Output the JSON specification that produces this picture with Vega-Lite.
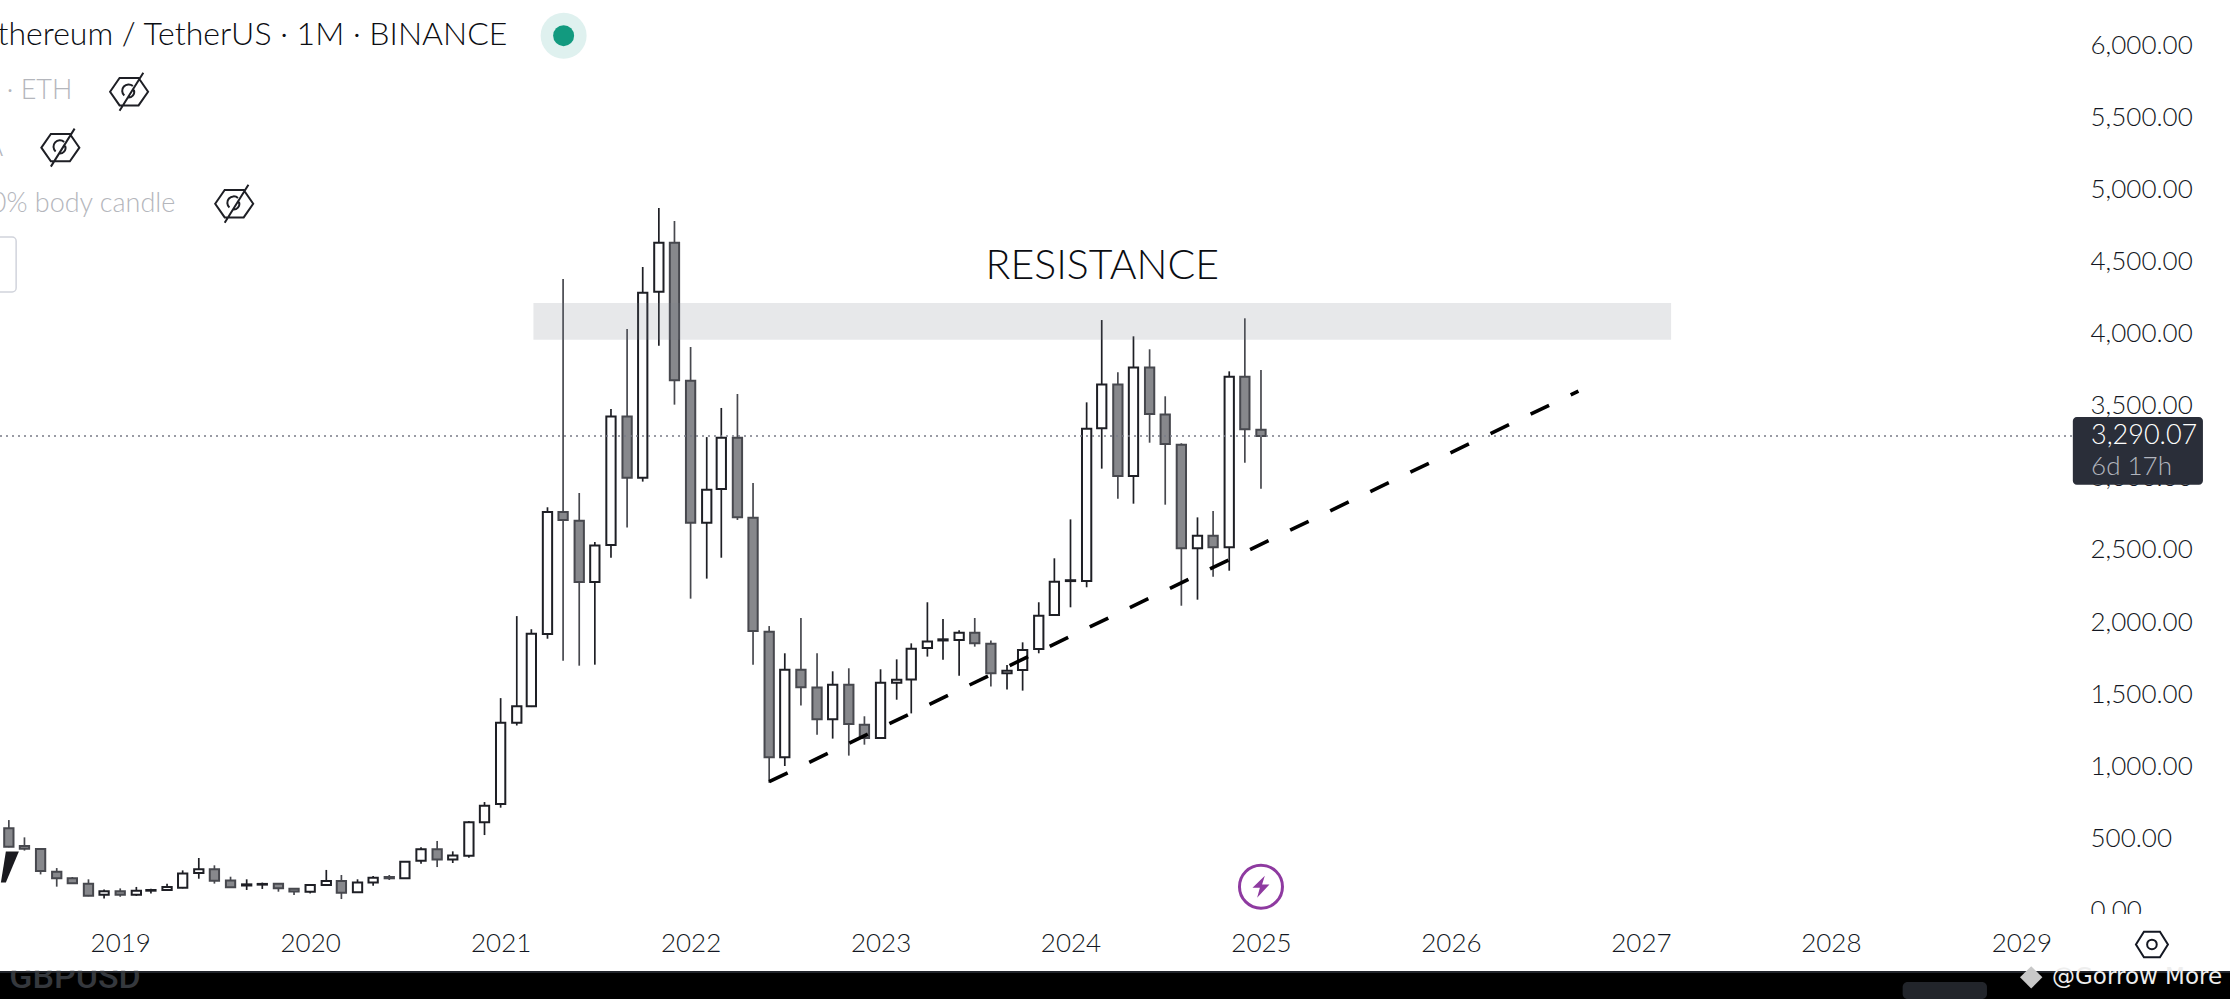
{
  "$schema": "https://vega.github.io/schema/vega-lite/v6.json",
  "width": 2230,
  "height": 999,
  "autosize": "none",
  "padding": 0,
  "background": "#ffffff",
  "config": {
    "view": {"stroke": null},
    "axisY": {
      "orient": "right", "offset": -140, "grid": false, "ticks": false, "domain": false,
      "labelPadding": 0, "labelAlign": "left", "labelBaseline": "middle", "labelFlush": false, "labelOverlap": false,
      "labelFont": "Lato", "labelFontWeight": 300, "labelFontSize": 26, "labelColor": "#131722", "zindex": 0
    }
  },
  "datasets": {
    "candles": [
      {"t":"2018-06-01","open":569,"close":441,"high":626,"low":437,"dir":"down"},
      {"t":"2018-07-01","open":446,"close":427,"high":506,"low":414,"dir":"down"},
      {"t":"2018-08-01","open":425,"close":272,"high":430,"low":249,"dir":"down"},
      {"t":"2018-09-01","open":268,"close":222,"high":293,"low":164,"dir":"down"},
      {"t":"2018-10-01","open":222,"close":187,"high":231,"low":187,"dir":"down"},
      {"t":"2018-11-01","open":185,"close":101,"high":215,"low":97,"dir":"down"},
      {"t":"2018-12-01","open":108,"close":132,"high":145,"low":81,"dir":"up"},
      {"t":"2019-01-01","open":132,"close":107,"high":152,"low":94,"dir":"down"},
      {"t":"2019-02-01","open":107,"close":136,"high":162,"low":100,"dir":"up"},
      {"t":"2019-03-01","open":136,"close":141,"high":150,"low":117,"dir":"up"},
      {"t":"2019-04-01","open":141,"close":162,"high":184,"low":137,"dir":"up"},
      {"t":"2019-05-01","open":156,"close":256,"high":277,"low":152,"dir":"up"},
      {"t":"2019-06-01","open":258,"close":284,"high":363,"low":219,"dir":"up"},
      {"t":"2019-07-01","open":284,"close":205,"high":312,"low":185,"dir":"down"},
      {"t":"2019-08-01","open":207,"close":160,"high":233,"low":159,"dir":"down"},
      {"t":"2019-09-01","open":172,"close":180,"high":215,"low":141,"dir":"up"},
      {"t":"2019-10-01","open":178,"close":183,"high":192,"low":148,"dir":"up"},
      {"t":"2019-11-01","open":184,"close":153,"high":187,"low":129,"dir":"down"},
      {"t":"2019-12-01","open":150,"close":130,"high":153,"low":106,"dir":"down"},
      {"t":"2020-01-01","open":128,"close":175,"high":182,"low":117,"dir":"up"},
      {"t":"2020-02-01","open":175,"close":203,"high":280,"low":175,"dir":"up"},
      {"t":"2020-03-01","open":203,"close":122,"high":245,"low":78,"dir":"down"},
      {"t":"2020-04-01","open":125,"close":192,"high":215,"low":125,"dir":"up"},
      {"t":"2020-05-01","open":192,"close":226,"high":238,"low":171,"dir":"up"},
      {"t":"2020-06-01","open":231,"close":222,"high":245,"low":210,"dir":"down"},
      {"t":"2020-07-01","open":222,"close":337,"high":337,"low":222,"dir":"up"},
      {"t":"2020-08-01","open":344,"close":423,"high":437,"low":323,"dir":"up"},
      {"t":"2020-09-01","open":423,"close":353,"high":481,"low":300,"dir":"down"},
      {"t":"2020-10-01","open":353,"close":381,"high":409,"low":328,"dir":"up"},
      {"t":"2020-11-01","open":379,"close":610,"high":619,"low":365,"dir":"up"},
      {"t":"2020-12-01","open":610,"close":726,"high":751,"low":522,"dir":"up"},
      {"t":"2021-01-01","open":737,"close":1301,"high":1472,"low":712,"dir":"up"},
      {"t":"2021-02-01","open":1301,"close":1416,"high":2041,"low":1282,"dir":"up"},
      {"t":"2021-03-01","open":1416,"close":1918,"high":1950,"low":1410,"dir":"up"},
      {"t":"2021-04-01","open":1917,"close":2763,"high":2796,"low":1884,"dir":"up"},
      {"t":"2021-05-01","open":2763,"close":2708,"high":4380,"low":1732,"dir":"down"},
      {"t":"2021-06-01","open":2703,"close":2277,"high":2895,"low":1697,"dir":"down"},
      {"t":"2021-07-01","open":2277,"close":2530,"high":2555,"low":1704,"dir":"up"},
      {"t":"2021-08-01","open":2534,"close":3425,"high":3478,"low":2446,"dir":"up"},
      {"t":"2021-09-01","open":3425,"close":3000,"high":4033,"low":2655,"dir":"down"},
      {"t":"2021-10-01","open":3000,"close":4285,"high":4463,"low":2974,"dir":"up"},
      {"t":"2021-11-01","open":4292,"close":4632,"high":4872,"low":3917,"dir":"up"},
      {"t":"2021-12-01","open":4632,"close":3677,"high":4782,"low":3508,"dir":"down"},
      {"t":"2022-01-01","open":3674,"close":2689,"high":3908,"low":2162,"dir":"down"},
      {"t":"2022-02-01","open":2689,"close":2918,"high":3283,"low":2301,"dir":"up"},
      {"t":"2022-03-01","open":2923,"close":3279,"high":3485,"low":2446,"dir":"up"},
      {"t":"2022-04-01","open":3279,"close":2726,"high":3582,"low":2708,"dir":"down"},
      {"t":"2022-05-01","open":2724,"close":1938,"high":2964,"low":1704,"dir":"down"},
      {"t":"2022-06-01","open":1933,"close":1061,"high":1972,"low":885,"dir":"down"},
      {"t":"2022-07-01","open":1061,"close":1669,"high":1783,"low":1001,"dir":"up"},
      {"t":"2022-08-01","open":1669,"close":1547,"high":2028,"low":1420,"dir":"down"},
      {"t":"2022-09-01","open":1545,"close":1325,"high":1783,"low":1218,"dir":"down"},
      {"t":"2022-10-01","open":1325,"close":1565,"high":1658,"low":1191,"dir":"up"},
      {"t":"2022-11-01","open":1565,"close":1292,"high":1679,"low":1073,"dir":"down"},
      {"t":"2022-12-01","open":1288,"close":1195,"high":1346,"low":1149,"dir":"down"},
      {"t":"2023-01-01","open":1195,"close":1579,"high":1672,"low":1195,"dir":"up"},
      {"t":"2023-02-01","open":1579,"close":1600,"high":1741,"low":1461,"dir":"up"},
      {"t":"2023-03-01","open":1602,"close":1815,"high":1852,"low":1366,"dir":"up"},
      {"t":"2023-04-01","open":1820,"close":1864,"high":2137,"low":1760,"dir":"up"},
      {"t":"2023-05-01","open":1872,"close":1880,"high":2021,"low":1739,"dir":"up"},
      {"t":"2023-06-01","open":1875,"close":1926,"high":1942,"low":1628,"dir":"up"},
      {"t":"2023-07-01","open":1926,"close":1852,"high":2028,"low":1829,"dir":"down"},
      {"t":"2023-08-01","open":1850,"close":1644,"high":1871,"low":1552,"dir":"down"},
      {"t":"2023-09-01","open":1644,"close":1662,"high":1702,"low":1531,"dir":"up"},
      {"t":"2023-10-01","open":1667,"close":1806,"high":1859,"low":1524,"dir":"up"},
      {"t":"2023-11-01","open":1813,"close":2044,"high":2137,"low":1783,"dir":"up"},
      {"t":"2023-12-01","open":2049,"close":2280,"high":2442,"low":2049,"dir":"up"},
      {"t":"2024-01-01","open":2284,"close":2290,"high":2712,"low":2102,"dir":"up"},
      {"t":"2024-02-01","open":2284,"close":3341,"high":3524,"low":2241,"dir":"up"},
      {"t":"2024-03-01","open":3344,"close":3647,"high":4095,"low":3064,"dir":"up"},
      {"t":"2024-04-01","open":3647,"close":3013,"high":3732,"low":2856,"dir":"down"},
      {"t":"2024-05-01","open":3013,"close":3765,"high":3982,"low":2821,"dir":"up"},
      {"t":"2024-06-01","open":3765,"close":3443,"high":3892,"low":3244,"dir":"down"},
      {"t":"2024-07-01","open":3439,"close":3235,"high":3566,"low":2814,"dir":"down"},
      {"t":"2024-08-01","open":3230,"close":2511,"high":3240,"low":2113,"dir":"down"},
      {"t":"2024-09-01","open":2511,"close":2599,"high":2726,"low":2155,"dir":"up"},
      {"t":"2024-10-01","open":2599,"close":2518,"high":2770,"low":2314,"dir":"down"},
      {"t":"2024-11-01","open":2518,"close":3702,"high":3739,"low":2356,"dir":"up"},
      {"t":"2024-12-01","open":3702,"close":3337,"high":4107,"low":3105,"dir":"down"},
      {"t":"2025-01-01","open":3334,"close":3290,"high":3748,"low":2925,"dir":"down"}
    ]
  },
  "encoding": {
    "x": {
      "field": "t",
      "type": "temporal",
      "title": null,
      "scale": {"type": "utc", "domain": ["2018-05-15", "2030-02-06"], "nice": false, "padding": 0},
      "axis": {
        "orient": "bottom",
        "offset": -56,
        "values": ["2019-01-01","2020-01-01","2021-01-01","2022-01-01","2023-01-01","2024-01-01","2025-01-01","2026-01-01","2027-01-01","2028-01-01","2029-01-01"],
        "format": "%Y",
        "grid": false,
        "ticks": false,
        "domain": false,
        "labelPadding": 0,
        "labelBaseline": "middle",
        "labelFlush": false,
        "labelOverlap": false,
        "labelFont": "Lato",
        "labelFontWeight": 300,
        "labelFontSize": 26,
        "labelColor": "#131722",
        "zindex": 1
      }
    },
    "y": {
      "field": "v",
      "type": "quantitative",
      "title": null,
      "scale": {"domain": [-615.4, 6315.3], "nice": false, "zero": false},
      "axis": {"values": [0,500,1000,1500,2000,2500,3000,3500,4000,4500,5000,5500,6000], "format": ",.2f"}
    }
  },
  "layer": [
    {
      "data": {"name": "candles"},
      "mark": {"type": "rule", "strokeWidth": 1.7},
      "encoding": {
        "y": {"field": "high", "type": "quantitative", "title": null, "axis": {"values": [0,500,1000,1500,2000,2500,3000,3500,4000,4500,5000,5500,6000], "format": ",.2f"}},
        "y2": {"field": "low"},
        "color": {"field": "dir", "type": "nominal", "legend": null, "scale": {"domain": ["up", "down"], "range": ["#1e1f25", "#47484e"]}}
      }
    },
    {
      "data": {"name": "candles"},
      "mark": {"type": "bar", "size": 9.3, "strokeWidth": 2, "orient": "vertical"},
      "encoding": {
        "y": {"field": "open", "type": "quantitative", "title": null, "axis": {"values": [0,500,1000,1500,2000,2500,3000,3500,4000,4500,5000,5500,6000], "format": ",.2f"}},
        "y2": {"field": "close"},
        "fill": {"field": "dir", "type": "nominal", "legend": null, "scale": {"domain": ["up", "down"], "range": ["#ffffff", "#87888c"]}},
        "stroke": {"field": "dir", "type": "nominal", "legend": null, "scale": {"domain": ["up", "down"], "range": ["#1e1f25", "#47484e"]}}
      }
    },
    {
      "data": {"values": [{"t": "2021-03-05", "t2": "2027-02-28", "v": 4213, "v2": 3958}]},
      "mark": {"type": "rect", "fill": "#787b86", "opacity": 0.175},
      "encoding": {"x2": {"field": "t2"}, "y2": {"field": "v2"}}
    },
    {
      "data": {"values": [{"t": "2022-06-01", "v": 892}, {"t": "2026-09-03", "v": 3602}]},
      "mark": {"type": "line", "stroke": "#000000", "strokeWidth": 3.6, "strokeDash": [20.5, 24]}
    },
    {
      "data": {"values": [{"t": "2018-05-15", "t2": "2029-04-10", "v": 3290.07}]},
      "mark": {"type": "rule", "stroke": "#787b86", "strokeWidth": 1.6, "strokeDash": [2, 4]},
      "encoding": {"x2": {"field": "t2"}}
    },
    {
      "data": {"values": [{"t": "2024-03-02", "v": 4463, "label": "RESISTANCE"}]},
      "mark": {"type": "text", "font": "Lato", "fontWeight": 300, "fontSize": 41, "color": "#0b0d12", "align": "center", "baseline": "middle"},
      "encoding": {"text": {"field": "label"}}
    },
    {
      "data": {"values": [{"t": "2021-01-14", "v": 6072, "label": "Ethereum / TetherUS · 1M · BINANCE"}]},
      "mark": {"type": "text", "font": "Lato", "fontWeight": 300, "fontSize": 32, "color": "#0b0d12", "align": "right", "baseline": "middle"},
      "encoding": {"text": {"field": "label"}}
    },
    {
      "data": {"values": [
        {"t": "2018-10-01", "v": 5684, "label": "Vol · ETH"},
        {"t": "2018-05-21", "v": 5289, "label": "SMA"},
        {"t": "2019-04-17", "v": 4900, "label": "50% body candle"}
      ]},
      "mark": {"type": "text", "font": "Lato", "fontWeight": 300, "fontSize": 27, "color": "#b4b6bc", "align": "right", "baseline": "middle"},
      "encoding": {"text": {"field": "label"}}
    },
    {
      "data": {"values": [{"t": "2018-04-01", "t2": "2018-06-15", "v": 4671, "v2": 4290}]},
      "mark": {"type": "rect", "fill": "#ffffff", "stroke": "#d1d4dc", "strokeWidth": 1.5, "cornerRadius": 4, "clip": true},
      "encoding": {"x2": {"field": "t2"}, "y2": {"field": "v2"}}
    },
    {
      "data": {"values": [{"t": "2021-05-02", "v": 6068}]},
      "mark": {"type": "point", "shape": "circle", "filled": true, "fill": "#dff1ef", "stroke": null, "size": 2116, "opacity": 1}
    },
    {
      "data": {"values": [{"t": "2021-05-02", "v": 6068}]},
      "mark": {"type": "point", "shape": "circle", "filled": true, "fill": "#129a7f", "stroke": null, "size": 441, "opacity": 1}
    },
    {
      "data": {"values": [{"t": "2019-01-18", "v": 5679}, {"t": "2018-09-08", "v": 5291}, {"t": "2019-08-08", "v": 4902}]},
      "mark": {
        "type": "point",
        "shape": "M-1,0 L-0.5,-0.72 L0.5,-0.72 L1,0 L0.5,0.72 L-0.5,0.72 Z M-0.5,1 L0.75,-1 M-0.25,0.2 A0.3,0.3 0 0 1 0.2,-0.3 M0.25,-0.1 A0.3,0.3 0 0 1 -0.1,0.3",
        "filled": false,
        "stroke": "#1e1f25",
        "strokeWidth": 2,
        "size": 1444,
        "opacity": 1
      }
    },
    {
      "data": {"values": [{"t": "2025-01-01", "v": 164}]},
      "mark": {"type": "point", "shape": "circle", "filled": false, "stroke": "#8e3aa0", "strokeWidth": 3, "size": 1849, "opacity": 1}
    },
    {
      "data": {"values": [{"t": "2025-01-01", "v": 164}]},
      "mark": {"type": "point", "shape": "M0.35,-1 L-0.77,0.1 L-0.1,0.1 L-0.35,1 L0.77,-0.2 L0.1,-0.2 Z", "filled": true, "fill": "#8e3aa0", "stroke": null, "size": 484, "opacity": 1}
    },
    {
      "data": {"values": [{"t": "2018-06-03", "v": 300}]},
      "mark": {"type": "point", "shape": "M-0.26,-1 L0.58,-1 L-0.26,1 L-0.58,1 Z", "filled": true, "fill": "#1a1a1f", "stroke": null, "size": 961, "opacity": 1}
    },
    {
      "data": {"values": [{"t": "2029-04-10", "t2": "2029-12-16", "v": 3422, "v2": 2953}]},
      "mark": {"type": "rect", "fill": "#2a2e39", "cornerRadius": 4},
      "encoding": {"x2": {"field": "t2"}, "y2": {"field": "v2"}}
    },
    {
      "data": {"values": [{"t": "2029-05-15", "v": 3290.07, "label": "3,290.07"}]},
      "mark": {"type": "text", "font": "Lato", "fontWeight": 300, "fontSize": 27, "color": "#ffffff", "align": "left", "baseline": "middle"},
      "encoding": {"text": {"field": "label"}}
    },
    {
      "data": {"values": [{"t": "2029-05-15", "v": 3075, "label": "6d 17h"}]},
      "mark": {"type": "text", "font": "Lato", "fontWeight": 300, "fontSize": 26, "color": "#b2b5be", "align": "left", "baseline": "middle"},
      "encoding": {"text": {"field": "label"}}
    },
    {
      "data": {"values": [{"t": "2029-03-29", "t2": "2029-12-10", "v": -25, "v2": -428}]},
      "mark": {"type": "rect", "fill": "#ffffff"},
      "encoding": {"x2": {"field": "t2"}, "y2": {"field": "v2"}}
    },
    {
      "data": {"values": [{"t": "2029-09-09", "v": -237}]},
      "mark": {"type": "point", "shape": "M-1,0 L-0.5,-0.8 L0.5,-0.8 L1,0 L0.5,0.8 L-0.5,0.8 Z M0.3,0 A0.3,0.3 0 1 1 -0.3,0 A0.3,0.3 0 1 1 0.3,0 Z", "filled": false, "stroke": "#131722", "strokeWidth": 2, "size": 1024, "opacity": 1}
    },
    {
      "data": {"values": [{"t": "2018-05-15", "t2": "2030-02-06", "v": -428, "v2": -615.4}]},
      "mark": {"type": "rect", "fill": "#000000"},
      "encoding": {"x2": {"field": "t2"}, "y2": {"field": "v2"}}
    },
    {
      "data": {"values": [{"t": "2018-05-15", "t2": "2030-02-06", "v": -428}]},
      "mark": {"type": "rule", "stroke": "#22252b", "strokeWidth": 2},
      "encoding": {"x2": {"field": "t2"}}
    },
    {
      "data": {"values": [{"t": "2018-06-02", "v": -539, "label": "GBPUSD"}]},
      "mark": {"type": "text", "font": "Roboto", "fontWeight": 500, "fontSize": 34, "color": "#35383d", "align": "left", "baseline": "alphabetic"},
      "encoding": {"text": {"field": "label"}}
    },
    {
      "data": {"values": [{"t": "2018-05-15", "t2": "2019-02-28", "v": -275, "v2": -420}]},
      "mark": {"type": "rect", "fill": "#ffffff"},
      "encoding": {"x2": {"field": "t2"}, "y2": {"field": "v2"}}
    },
    {
      "data": {"values": [{"t": "2028-05-18", "t2": "2028-10-27", "v": -497, "v2": -615.4}]},
      "mark": {"type": "rect", "fill": "#22252b", "cornerRadius": 5},
      "encoding": {"x2": {"field": "t2"}, "y2": {"field": "v2"}}
    },
    {
      "data": {"values": [{"t": "2029-01-20", "v": -465}]},
      "mark": {"type": "point", "shape": "diamond", "filled": true, "fill": "#c8c8c8", "stroke": null, "size": 500, "opacity": 1}
    },
    {
      "data": {"values": [{"t": "2029-03-01", "v": -463, "label": "@Gorrow More"}]},
      "mark": {"type": "text", "font": "DejaVu Sans", "fontWeight": 500, "fontSize": 23, "color": "#eeeeee", "align": "left", "baseline": "middle"},
      "encoding": {"text": {"field": "label"}}
    }
  ]
}
